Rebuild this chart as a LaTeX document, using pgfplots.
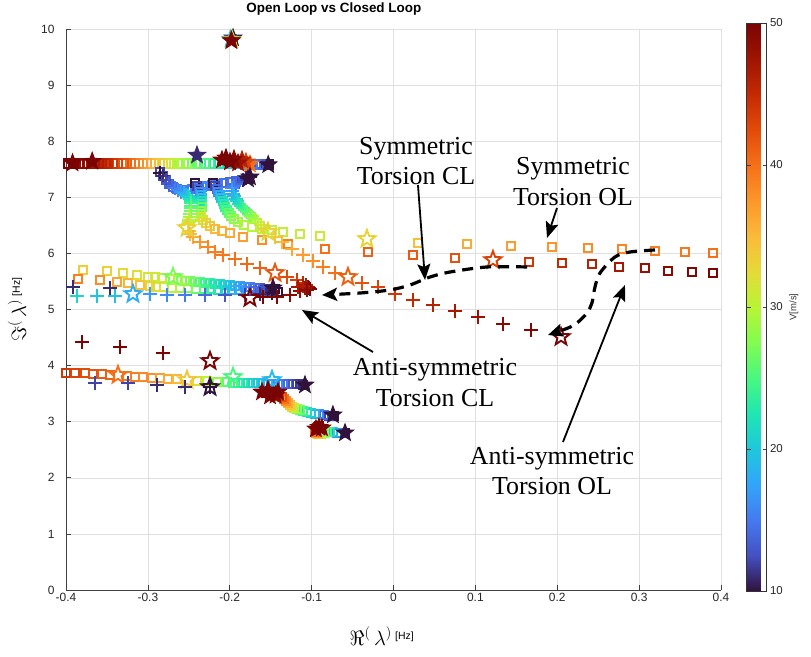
\documentclass[border=0pt]{standalone}
\usepackage{fontspec}
\setmainfont{Liberation Serif}
\setsansfont{Liberation Sans}
\usepackage{pgfplots}
\pgfplotsset{compat=1.18}
\usetikzlibrary{arrows.meta}

\pgfdeclareplotmark{ostar}{%
 \pgfpathmoveto{\pgfpointpolar{90}{\pgfplotmarksize}}%
 \pgfpathlineto{\pgfpointpolar{126}{0.42\pgfplotmarksize}}%
 \pgfpathlineto{\pgfpointpolar{162}{\pgfplotmarksize}}%
 \pgfpathlineto{\pgfpointpolar{198}{0.42\pgfplotmarksize}}%
 \pgfpathlineto{\pgfpointpolar{234}{\pgfplotmarksize}}%
 \pgfpathlineto{\pgfpointpolar{270}{0.42\pgfplotmarksize}}%
 \pgfpathlineto{\pgfpointpolar{306}{\pgfplotmarksize}}%
 \pgfpathlineto{\pgfpointpolar{342}{0.42\pgfplotmarksize}}%
 \pgfpathlineto{\pgfpointpolar{18}{\pgfplotmarksize}}%
 \pgfpathlineto{\pgfpointpolar{54}{0.42\pgfplotmarksize}}%
 \pgfpathclose
 \pgfusepathqstroke}
\pgfdeclareplotmark{fstar}{%
 \pgfpathmoveto{\pgfpointpolar{90}{\pgfplotmarksize}}%
 \pgfpathlineto{\pgfpointpolar{126}{0.42\pgfplotmarksize}}%
 \pgfpathlineto{\pgfpointpolar{162}{\pgfplotmarksize}}%
 \pgfpathlineto{\pgfpointpolar{198}{0.42\pgfplotmarksize}}%
 \pgfpathlineto{\pgfpointpolar{234}{\pgfplotmarksize}}%
 \pgfpathlineto{\pgfpointpolar{270}{0.42\pgfplotmarksize}}%
 \pgfpathlineto{\pgfpointpolar{306}{\pgfplotmarksize}}%
 \pgfpathlineto{\pgfpointpolar{342}{0.42\pgfplotmarksize}}%
 \pgfpathlineto{\pgfpointpolar{18}{\pgfplotmarksize}}%
 \pgfpathlineto{\pgfpointpolar{54}{0.42\pgfplotmarksize}}%
 \pgfpathclose
 \pgfusepathqfillstroke}

\pgfplotsset{
 colormap={turbo}{rgb255=(48,18,59) rgb255=(68,80,195) rgb255=(69,122,240) rgb255=(50,165,250) rgb255=(30,200,220) rgb255=(32,230,178) rgb255=(72,248,128) rgb255=(130,252,80) rgb255=(185,245,52) rgb255=(228,218,55) rgb255=(250,186,57) rgb255=(252,150,42) rgb255=(246,112,24) rgb255=(225,75,10) rgb255=(195,42,4) rgb255=(160,20,2) rgb255=(122,4,3)},
 sq/.style={scatter, only marks, mark=square, mark size=4.3pt, mark options={line width=2.1pt}, point meta=explicit},
 pl/.style={scatter, only marks, mark=+, mark size=6.6pt, mark options={line width=2.5pt}, point meta=explicit},
 os/.style={scatter, only marks, mark=ostar, mark size=9pt, mark options={line width=1.9pt}, point meta=explicit},
 fs/.style={scatter, only marks, mark=fstar, mark size=9pt, mark options={line width=1pt}, point meta=explicit},
}

\begin{document}
\begin{tikzpicture}
\begin{axis}[
 at={(0,0)}, anchor=south west,
 scale only axis, width=655bp, height=561bp,
 xmin=-0.4, xmax=0.4, ymin=0, ymax=10,
 xtick={-0.4,-0.3,-0.2,-0.1,0,0.1,0.2,0.3,0.4},
 ytick={0,1,2,3,4,5,6,7,8,9,10},
 grid=major, grid style={color=black!12, line width=0.5bp},
 axis x line*=bottom, axis y line*=left,
 axis line style={black!75, line width=0.7bp},
 tick align=inside, major tick length=5bp, tick style={black!75, line width=0.6bp},
 ticklabel style={font=\sffamily\fontsize{12}{13}\selectfont, text=black!85},
 /pgf/number format/assume math mode=true,
 xticklabel style={/pgf/number format/.cd, fixed, precision=1},
 yticklabel style={xshift=-8bp},
 xlabel={\fontsize{20}{20}\selectfont$\Re^{(}\,\lambda^{)}$\,{\sffamily\fontsize{10.5}{10}\selectfont\raisebox{1.1ex}{[Hz]}}},
 xlabel style={at={(axis description cs:0.482,-0.082)}, anchor=center},
 ylabel={\fontsize{20}{20}\selectfont$\Im^{(}\,\lambda^{)}$\,{\sffamily\fontsize{10.5}{10}\selectfont\raisebox{1.1ex}{[Hz]}}},
 ylabel style={at={(axis description cs:-0.075,0.5)}, anchor=center},
 colormap name=turbo, point meta min=10, point meta max=50,
 scatter/use mapped color={draw=mapped color, fill=mapped color},
 colorbar,
 colorbar style={
   at={(parent axis.north east)}, anchor=north west, xshift=17bp, yshift=6bp,
   scale only axis, width=20bp, height=568bp,
   ytick={10,20,30,40,50},
   /pgf/number format/assume math mode=true,
   yticklabel style={font=\sffamily\fontsize{11.5}{12}\selectfont, text=black!85},
   ylabel={V[m/s]}, ylabel style={font=\sffamily\fontsize{9.5}{10}\selectfont, text=black!80},
   axis line style={black!80}, major tick length=4bp,
 },
 clip mode=individual,
]

% top isolated mode
\addplot[fs] coordinates {(-0.196,9.84)[10] (-0.199,9.82)[20] (-0.197,9.81)[30] (-0.198,9.80)[45] (-0.198,9.79)[50]};

% top ribbon
\addplot[sq] coordinates {(-0.153,7.58)[10] (-0.157,7.58)[11] (-0.161,7.58)[12] (-0.164,7.58)[13] (-0.168,7.59)[14] (-0.172,7.59)[15] (-0.177,7.59)[16] (-0.181,7.59)[17] (-0.188,7.60)[18] (-0.194,7.60)[19] (-0.201,7.60)[20] (-0.207,7.60)[21] (-0.213,7.60)[22] (-0.219,7.60)[23] (-0.225,7.60)[24] (-0.231,7.60)[25] (-0.239,7.60)[26] (-0.246,7.60)[27] (-0.253,7.60)[28] (-0.261,7.60)[29] (-0.268,7.60)[30] (-0.275,7.60)[31] (-0.282,7.60)[32] (-0.286,7.60)[33] (-0.291,7.60)[34] (-0.296,7.60)[35] (-0.301,7.60)[36] (-0.306,7.60)[37] (-0.311,7.60)[38] (-0.316,7.60)[39] (-0.321,7.60)[40] (-0.326,7.60)[41] (-0.330,7.60)[42] (-0.337,7.60)[43] (-0.343,7.60)[44] (-0.349,7.60)[45] (-0.352,7.60)[45.5] (-0.356,7.60)[46] (-0.360,7.60)[46.5] (-0.365,7.60)[47] (-0.369,7.60)[47.5] (-0.373,7.60)[48] (-0.378,7.60)[48.5] (-0.384,7.60)[49] (-0.391,7.60)[49.5] (-0.397,7.60)[50]};
\addplot[fs] coordinates {(-0.153,7.58)[10] (-0.240,7.75)[11] (-0.392,7.61)[50] (-0.368,7.64)[50]};
\addplot[fs] coordinates {(-0.1753,7.59)[40] (-0.1802,7.63)[43] (-0.1850,7.665)[46] (-0.1899,7.61)[48] (-0.1948,7.68)[49] (-0.1997,7.63)[50] (-0.2046,7.70)[50] (-0.2095,7.665)[50]};

% swirl: blue band at its top
\addplot[sq] coordinates {(-0.2852,7.451)[12] (-0.2815,7.380)[12.5] (-0.2779,7.308)[13] (-0.2742,7.237)[13.5] (-0.2693,7.183)[14] (-0.2644,7.148)[14.5] (-0.2583,7.130)[15] (-0.2522,7.130)[15] (-0.2461,7.148)[15] (-0.2400,7.166)[15.5] (-0.2339,7.183)[15.5] (-0.2278,7.201)[15.5] (-0.2217,7.219)[15] (-0.2144,7.237)[15] (-0.2070,7.255)[14.5] (-0.1997,7.273)[14] (-0.1924,7.290)[13.5] (-0.1850,7.308)[13] (-0.1777,7.326)[12.5]};

% swirl: open-loop squares (lower branch)
\addplot[sq] coordinates {(-0.2425,7.255)[10] (-0.2400,7.201)[12] (-0.2376,7.148)[14] (-0.2363,7.094)[16] (-0.2351,7.041)[18] (-0.2339,6.987)[20] (-0.2339,6.934)[22] (-0.2339,6.880)[24] (-0.2339,6.827)[26] (-0.2351,6.756)[28] (-0.2351,6.702)[30] (-0.2351,6.649)[31] (-0.2327,6.595)[32] (-0.2290,6.542)[33] (-0.2241,6.488)[34] (-0.2180,6.435)[35] (-0.2095,6.399)[35.5] (-0.1997,6.364)[36] (-0.1838,6.292)[37] (-0.1606,6.239)[38] (-0.1289,6.167)[39] (-0.0837,6.078)[40] (-0.0311,6.025)[41] (0.0238,5.971)[41.5] (0.0751,5.918)[42] (0.1655,5.847)[44] (0.2058,5.829)[45] (0.2425,5.811)[46] (0.2754,5.758)[47] (0.3072,5.740)[48] (0.3353,5.686)[49] (0.3646,5.668)[49.5] (0.3902,5.651)[50]};
\addplot[os] coordinates {(0.1215,5.882)[43]};

% swirl: open-loop squares (upper branch)
\addplot[sq] coordinates {(-0.2205,7.255)[10] (-0.2180,7.201)[12] (-0.2156,7.148)[14] (-0.2144,7.094)[16] (-0.2119,7.041)[18] (-0.2107,6.987)[20] (-0.2082,6.934)[22] (-0.2070,6.880)[23] (-0.2058,6.827)[24] (-0.2034,6.774)[25] (-0.2009,6.720)[26] (-0.1985,6.667)[27] (-0.1948,6.613)[28] (-0.1899,6.560)[29] (-0.1826,6.506)[29.5] (-0.1728,6.471)[30] (-0.1606,6.435)[30.2] (-0.1484,6.417)[30.4] (-0.1350,6.381)[30.5] (-0.1142,6.346)[30.8] (-0.0898,6.310)[31] (0.0299,6.185)[34.5] (0.0898,6.167)[36] (0.1435,6.132)[37] (0.1936,6.114)[37.5] (0.2376,6.096)[38] (0.2791,6.078)[38.5] (0.3194,6.043)[39] (0.3560,6.025)[39.5] (0.3902,6.007)[40]};
\addplot[os] coordinates {(-0.0324,6.257)[33]};

% swirl: closed-loop plus (symmetric torsion CL)
\addplot[pl] coordinates {(-0.1753,7.362)[10] (-0.1802,7.344)[11] (-0.1838,7.308)[12] (-0.1887,7.273)[13] (-0.1924,7.237)[14] (-0.1948,7.201)[15] (-0.1973,7.166)[16] (-0.1973,7.112)[17] (-0.1960,7.059)[18] (-0.1948,7.023)[19] (-0.1924,6.970)[20] (-0.1912,6.934)[21] (-0.1887,6.880)[22] (-0.1863,6.845)[23] (-0.1838,6.809)[24] (-0.1814,6.774)[25] (-0.1789,6.738)[26] (-0.1753,6.684)[27] (-0.1728,6.649)[28] (-0.1692,6.613)[29] (-0.1655,6.560)[30] (-0.1618,6.506)[31] (-0.1582,6.453)[32] (-0.1447,6.292)[34] (-0.1362,6.203)[35] (-0.1240,6.078)[36] (-0.1105,5.971)[37] (-0.0983,5.864)[38] (-0.0861,5.758)[39] (-0.0715,5.651)[40] (-0.0385,5.472)[42] (-0.0189,5.401)[43] (0.0018,5.276)[44] (0.0238,5.169)[45] (0.0482,5.080)[46] (0.0751,4.973)[47] (0.1032,4.866)[48] (0.1337,4.741)[49] (0.1679,4.634)[49.5]};
\addplot[os] coordinates {(-0.1533,6.381)[33] (-0.0556,5.579)[41] (0.2046,4.510)[50]};
\addplot[fs] coordinates {(-0.1753,7.362)[10]};

% swirl: closed-loop plus (second branch)
\addplot[pl] coordinates {(-0.2852,7.433)[10] (-0.2815,7.380)[11] (-0.2779,7.308)[12] (-0.2742,7.255)[13] (-0.2705,7.201)[14] (-0.2669,7.166)[15] (-0.2632,7.130)[16] (-0.2595,7.094)[17] (-0.2559,7.077)[18] (-0.2534,7.041)[19] (-0.2510,7.023)[20] (-0.2498,7.005)[21] (-0.2485,6.970)[22] (-0.2473,6.934)[23] (-0.2473,6.898)[24] (-0.2473,6.845)[25] (-0.2473,6.809)[26] (-0.2473,6.756)[27] (-0.2485,6.702)[28] (-0.2485,6.649)[29] (-0.2498,6.595)[30] (-0.2498,6.560)[31] (-0.2510,6.524)[32] (-0.2498,6.399)[34] (-0.2485,6.346)[35] (-0.2449,6.292)[36] (-0.2363,6.203)[37.5] (-0.2266,6.114)[38.5] (-0.2180,6.025)[39] (-0.2082,5.971)[39.5] (-0.1936,5.900)[40] (-0.1789,5.811)[40.5] (-0.1630,5.740)[41] (-0.1301,5.579)[42.5] (-0.1179,5.526)[43.5] (-0.1105,5.472)[45] (-0.1069,5.437)[46.5] (-0.1044,5.401)[48] (-0.1032,5.383)[49] (-0.1020,5.365)[50]};
\addplot[os] coordinates {(-0.2522,6.453)[33] (-0.1447,5.651)[41.5]};
\addplot[fs] coordinates {(-0.1777,7.326)[10]};

% anti-symmetric torsion region
\addplot[sq] coordinates {(-0.1447,5.365)[10] (-0.1508,5.365)[11] (-0.1570,5.365)[12] (-0.1630,5.383)[13] (-0.1692,5.383)[14] (-0.1753,5.401)[15] (-0.1814,5.401)[16] (-0.1875,5.419)[17] (-0.1936,5.419)[18] (-0.1997,5.437)[19] (-0.2058,5.437)[20] (-0.2119,5.454)[21] (-0.2180,5.454)[22] (-0.2241,5.472)[23] (-0.2302,5.472)[24] (-0.2363,5.490)[25] (-0.2425,5.490)[26] (-0.2485,5.508)[27] (-0.2547,5.508)[28] (-0.2632,5.526)[29] (-0.2730,5.544)[30] (-0.2827,5.561)[30.5] (-0.2913,5.579)[31] (-0.2999,5.579)[31.5] (-0.3133,5.615)[32] (-0.3304,5.651)[32.5] (-0.3499,5.686)[33] (-0.3793,5.704)[33.5]};
\addplot[sq] coordinates {(-0.1411,5.312)[10] (-0.1484,5.312)[11] (-0.1557,5.330)[12] (-0.1630,5.330)[13] (-0.1716,5.330)[14] (-0.1802,5.330)[15.5] (-0.1887,5.348)[17] (-0.1973,5.348)[18.5] (-0.2058,5.348)[20] (-0.2144,5.348)[21.5] (-0.2229,5.365)[23] (-0.2314,5.365)[24.5] (-0.2412,5.365)[26] (-0.2510,5.383)[27.5] (-0.2608,5.383)[29] (-0.2705,5.383)[30] (-0.2803,5.401)[31] (-0.2901,5.401)[32] (-0.2974,5.419)[33] (-0.3096,5.437)[34.5] (-0.3243,5.472)[35.5] (-0.3377,5.490)[36.5] (-0.3584,5.526)[38] (-0.3854,5.544)[39]};
\addplot[os] coordinates {(-0.2693,5.579)[27]};
\addplot[fs] coordinates {(-0.1472,5.383)[10]};
\addplot[pl] coordinates {(-0.1484,5.294)[10] (-0.1630,5.276)[11] (-0.1814,5.259)[12] (-0.2058,5.259)[13] (-0.2302,5.259)[14] (-0.2547,5.259)[15] (-0.2766,5.259)[16] (-0.2974,5.276)[17] (-0.3401,5.241)[19.5] (-0.3621,5.241)[20] (-0.3866,5.241)[21]};
\addplot[os] coordinates {(-0.3182,5.276)[18]};
\addplot[pl] coordinates {(-0.3915,5.401)[11] (-0.3463,5.383)[11]};
\addplot[pl] coordinates {(-0.1594,5.223)[50] (-0.1423,5.223)[49.5] (-0.1264,5.259)[49] (-0.1142,5.330)[48.5] (-0.1081,5.383)[48] (-0.1166,5.401)[47] (-0.1105,5.419)[46.5] (-0.1056,5.348)[49]};
\addplot[os] coordinates {(-0.1753,5.205)[50]};

% lower region: long ribbon
\addplot[sq] coordinates {(-0.400,3.868)[44] (-0.3890,3.868)[43] (-0.3768,3.868)[42.5] (-0.3670,3.850)[42] (-0.3560,3.850)[41.5] (-0.3463,3.832)[41] (-0.3255,3.815)[39.5] (-0.3157,3.797)[39] (-0.3060,3.797)[38.5] (-0.2950,3.779)[38] (-0.2852,3.779)[37] (-0.2754,3.761)[36] (-0.2644,3.761)[35] (-0.2400,3.725)[32] (-0.2278,3.725)[30] (-0.2156,3.708)[28] (-0.2034,3.708)[26] (-0.1960,3.690)[25] (-0.1899,3.690)[24] (-0.1838,3.690)[23] (-0.1777,3.690)[22] (-0.1716,3.690)[21] (-0.1655,3.690)[20] (-0.1594,3.690)[19] (-0.1533,3.672)[18] (-0.1472,3.672)[17] (-0.1411,3.672)[16] (-0.1350,3.672)[15] (-0.1289,3.672)[14] (-0.1227,3.672)[13] (-0.1179,3.672)[12] (-0.1142,3.672)[11.5] (-0.1105,3.654)[11]};
\addplot[os] coordinates {(-0.3365,3.832)[40] (-0.2522,3.743)[34] (-0.1960,3.797)[25] (-0.1484,3.743)[19]};
\addplot[fs] coordinates {(-0.1081,3.654)[10]};
\addplot[pl] coordinates {(-0.3646,3.690)[12] (-0.3243,3.690)[12] (-0.2889,3.654)[11] (-0.2547,3.618)[11] (-0.2241,3.618)[10]};
\addplot[os] coordinates {(-0.2241,3.618)[10]};
\addplot[pl] coordinates {(-0.3805,4.421)[50] (-0.3340,4.331)[50] (-0.2815,4.225)[50]};
\addplot[os] coordinates {(-0.2241,4.082)[50]};

% lower region: descending ribbon
\addplot[sq] coordinates {(-0.0727,3.102)[10] (-0.0788,3.102)[12] (-0.0849,3.119)[14] (-0.0910,3.137)[16] (-0.0959,3.137)[18] (-0.1008,3.155)[20] (-0.1056,3.173)[22] (-0.1105,3.191)[24] (-0.1142,3.209)[26] (-0.1179,3.226)[28] (-0.1215,3.244)[30] (-0.1240,3.262)[32] (-0.1264,3.298)[34] (-0.1289,3.333)[36] (-0.1313,3.369)[38] (-0.1337,3.405)[40] (-0.1362,3.440)[42] (-0.1398,3.458)[44] (-0.1435,3.476)[46] (-0.1484,3.494)[48] (-0.1557,3.512)[50]};
\addplot[fs] coordinates {(-0.0740,3.12)[10] (-0.1440,3.47)[49] (-0.1606,3.529)[50] (-0.1508,3.458)[50] (-0.1411,3.529)[50] (-0.1533,3.565)[50]};

% lower region: short ribbon
\addplot[sq] coordinates {(-0.0592,2.799)[10] (-0.0641,2.799)[13] (-0.0690,2.799)[16] (-0.0739,2.816)[19] (-0.0776,2.816)[22] (-0.0812,2.816)[25] (-0.0849,2.799)[28] (-0.0886,2.781)[31] (-0.0922,2.781)[34] (-0.0947,2.799)[37] (-0.0959,2.816)[40] (-0.0947,2.852)[43] (-0.0934,2.888)[46] (-0.0922,2.905)[48] (-0.0910,2.923)[50]};
\addplot[fs] coordinates {(-0.0592,2.80)[10] (-0.0947,2.87)[50] (-0.0873,2.888)[50] (-0.0910,2.90)[50]};

% annotations
\node[font=\fontsize{26}{31}\selectfont, align=center] at (axis cs:0.0275,7.647) {Symmetric\\Torsion CL};
\node[font=\fontsize{26}{31}\selectfont, align=center] at (axis cs:0.2192,7.273) {Symmetric\\Torsion OL};
\node[font=\fontsize{26}{31}\selectfont, align=center] at (axis cs:0.0507,3.690) {Anti-symmetric\\Torsion CL};
\node[font=\fontsize{26}{31}\selectfont, align=center] at (axis cs:0.1936,2.121) {Anti-symmetric\\Torsion OL};

\draw[line width=1.8bp, -{Stealth[length=16bp,width=13bp,inset=3bp]}] (axis cs:0.0299,7.219) -- (axis cs:0.0385,5.526);
\draw[line width=1.8bp, -{Stealth[length=16bp,width=13bp,inset=3bp]}] (axis cs:0.1997,6.809) -- (axis cs:0.1875,6.275);
\draw[line width=1.8bp, -{Stealth[length=16bp,width=13bp,inset=3bp]}] (axis cs:-0.0250,4.242) -- (axis cs:-0.1118,4.991);
\draw[line width=1.8bp, -{Stealth[length=16bp,width=13bp,inset=3bp]}] (axis cs:0.2070,2.638) -- (axis cs:0.2827,5.437);

\draw[line width=3.2bp, dash pattern=on 11bp off 7bp, -{Stealth[length=15bp,width=13bp,inset=3bp]}] plot[smooth] coordinates {(axis cs:0.1631,5.758) (axis cs:0.1142,5.758) (axis cs:0.0690,5.668) (axis cs:0.0446,5.579) (axis cs:0.0202,5.437) (axis cs:-0.0043,5.348) (axis cs:-0.0409,5.294) (axis cs:-0.0873,5.258)};
\draw[line width=3.2bp, dash pattern=on 11bp off 7bp, -{Stealth[length=15bp,width=13bp,inset=3bp]}] plot[smooth] coordinates {(axis cs:0.3194,6.061) (axis cs:0.2889,6.025) (axis cs:0.2705,5.936) (axis cs:0.2522,5.651) (axis cs:0.2461,5.401) (axis cs:0.2424,5.116) (axis cs:0.2363,4.938) (axis cs:0.2241,4.759) (axis cs:0.2131,4.670) (axis cs:0.1887,4.545)};

\node[font=\sffamily\bfseries\fontsize{13.5}{14}\selectfont, anchor=base] at (rel axis cs:0.409,1) [yshift=16bp] {Open Loop vs Closed Loop};
\end{axis}
\pgfresetboundingbox
\useasboundingbox (-66bp,-67bp) rectangle (745bp,590bp);
\end{tikzpicture}
\end{document}
